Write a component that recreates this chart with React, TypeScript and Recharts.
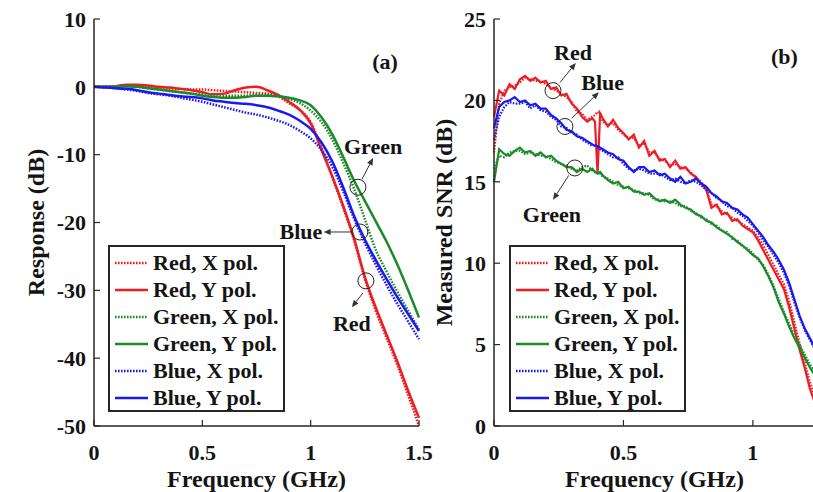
import { LineChart, Line, XAxis, YAxis, ReferenceDot, ReferenceLine } from 'recharts';

const FONT = '"Liberation Serif", "Times New Roman", Times, serif';
const INK = '#262626';
const RED = '#ee1d23';
const GREEN = '#1d8a2a';
const BLUE = '#1a1aee';
const DOTS = '1.6 1.4';
const TICK = 6;

// ---- panel (a): frequency response (dB) ----
const freqA = [
  0, 0.05, 0.1, 0.15, 0.2, 0.25, 0.3, 0.35, 0.4, 0.45, 0.5, 0.55, 0.6, 0.65, 0.7, 0.75,
  0.8, 0.85, 0.9, 0.95, 1.0, 1.05, 1.1, 1.15, 1.2, 1.25, 1.3, 1.35, 1.4, 1.45, 1.5,
];
const respRedX = [
  0, 0.0, 0.1, 0.2, 0.2, 0.0, -0.2, -0.3, -0.3, -0.4, -0.4, -0.5, -0.6, -0.7, -0.8, -0.9,
  -1.0, -1.4, -2.4, -3.4, -5.2, -9.0, -13.4, -17.8, -22.6, -28.3, -33.0, -37.0, -41.0, -45.5, -50.0,
];
const respRedY = [
  0, 0.0, 0.1, 0.3, 0.3, 0.2, 0.0, -0.1, -0.3, -0.5, -0.8, -1.1, -1.0, -0.5, -0.1, 0.0,
  -0.5, -1.2, -2.2, -3.4, -5.4, -9.3, -13.2, -17.5, -22.3, -28.0, -32.5, -36.5, -40.5, -44.8, -48.8,
];
const respGreenX = [
  0, 0.0, 0.0, 0.1, 0.0, -0.2, -0.4, -0.6, -0.8, -1.0, -1.1, -1.2, -1.3, -1.3, -1.3, -1.2,
  -1.2, -1.4, -1.8, -2.4, -3.5, -5.2, -7.8, -11.2, -15.0, -19.5, -24.0, -27.2, -30.2, -33.0, -35.8,
];
const respGreenY = [
  0, 0.0, 0.0, 0.1, 0.0, -0.2, -0.4, -0.6, -0.8, -1.0, -1.3, -1.5, -1.6, -1.6, -1.5, -1.3,
  -1.3, -1.4, -1.6, -2.0, -2.7, -4.5, -7.0, -10.3, -13.8, -16.8, -19.8, -22.8, -26.2, -30.0, -34.0,
];
const respBlueX = [
  0, -0.1, -0.2, -0.4, -0.6, -0.9, -1.1, -1.3, -1.6, -1.9, -2.2, -2.6, -3.0, -3.4, -3.8, -4.1,
  -4.5, -5.0, -5.6, -6.5, -7.6, -9.3, -11.8, -15.4, -19.4, -23.0, -26.2, -29.2, -32.0, -34.6, -37.2,
];
const respBlueY = [
  0, -0.1, -0.2, -0.3, -0.5, -0.8, -1.0, -1.2, -1.4, -1.5, -1.7, -2.0, -2.2, -2.4, -2.5, -2.7,
  -3.0, -3.5, -4.1, -5.0, -6.2, -8.2, -11.0, -14.8, -19.0, -22.5, -25.5, -28.3, -31.0, -33.5, -36.0,
];

// ---- panel (b): measured SNR (dB) ----
const freqB = [
  0, 0.02, 0.04, 0.06, 0.08, 0.1, 0.12, 0.14, 0.16, 0.18, 0.2, 0.22, 0.24, 0.26, 0.28, 0.3,
  0.32, 0.34, 0.36, 0.38, 0.39, 0.4, 0.41, 0.42, 0.44, 0.46, 0.48, 0.5, 0.52, 0.54, 0.56, 0.58,
  0.6, 0.62, 0.64, 0.66, 0.68, 0.7, 0.72, 0.74, 0.76, 0.78, 0.8, 0.82, 0.84, 0.86, 0.88, 0.9,
  0.92, 0.94, 0.96, 0.98, 1.0, 1.02, 1.04, 1.06, 1.08, 1.1, 1.12, 1.14, 1.16, 1.18, 1.2, 1.22, 1.24,
];
const snrRedX = [
  16.8, 19.8, 20.6, 20.8, 20.9, 21.1, 21.4, 21.3, 21.2, 21.2, 21.0, 20.8, 20.6, 20.4, 20.2, 19.9,
  19.3, 19.2, 18.8, 19.0, 19.1, 19.3, 19.2, 18.7, 18.5, 18.6, 18.2, 17.9, 17.7, 17.7, 17.2, 17.4,
  16.8, 16.8, 16.4, 16.3, 16.0, 16.1, 15.9, 15.8, 15.6, 15.2, 15.0, 14.6, 13.6, 13.5, 13.2, 13.0,
  12.8, 12.6, 12.4, 12.2, 12.0, 11.6, 11.1, 10.5, 9.9, 9.3, 8.7, 7.7, 6.4, 5.1, 3.9, 2.7, 1.8,
];
const snrRedY = [
  19.0, 20.6, 20.3, 21.0, 20.7, 21.3, 21.5, 21.2, 21.4, 21.1, 21.2, 20.7, 20.8, 20.3, 20.4, 19.8,
  19.5, 19.0, 18.7, 18.9, 18.7, 15.5, 19.2, 18.9, 18.4, 18.8, 18.3, 18.0, 17.6, 17.9, 17.1, 17.5,
  16.6, 16.9, 16.3, 16.4, 15.9, 16.3, 15.8, 15.9, 15.5, 15.3, 14.9, 14.5, 13.4, 13.6, 13.0, 13.1,
  12.6, 12.7, 12.3, 12.1, 11.9, 11.4, 10.8, 10.2, 9.6, 9.0, 8.4, 7.3, 6.0, 4.7, 3.6, 2.3, 1.4,
];
const snrGreenX = [
  15.8, 16.6, 16.5, 16.8, 16.9, 16.9, 16.7, 16.8, 16.7, 16.6, 16.6, 16.4, 16.2, 16.1, 16.0, 15.8,
  15.7, 15.9, 16.0, 15.7, 15.6, 15.6, 15.5, 15.3, 15.2, 15.0, 14.8, 14.7, 14.6, 14.5, 14.3, 14.3,
  14.2, 13.9, 13.9, 13.8, 13.8, 13.7, 13.5, 13.5, 13.2, 13.1, 12.8, 12.7, 12.4, 12.3, 12.0, 11.9,
  11.5, 11.4, 11.0, 10.9, 10.6, 10.2, 9.9, 9.3, 8.6, 7.8, 7.0, 6.3, 5.6, 5.0, 4.4, 3.8, 3.3,
];
const snrGreenY = [
  15.0, 17.0, 16.7, 16.6, 16.9, 17.1, 16.8, 16.9, 16.6, 16.8, 16.5, 16.6, 16.3, 16.1, 15.9, 15.9,
  15.6, 15.8, 15.6, 15.8, 15.6, 15.5, 15.6, 15.4, 15.1, 14.9, 15.0, 14.6, 14.7, 14.4, 14.4, 14.2,
  14.3, 14.0, 13.8, 13.9, 13.7, 13.9, 13.6, 13.4, 13.3, 13.0, 12.9, 12.6, 12.5, 12.2, 12.0, 11.8,
  11.6, 11.3, 11.1, 10.8, 10.5, 10.3, 9.8, 9.2, 8.5, 7.6, 6.9, 6.1, 5.4, 4.8, 4.2, 3.6, 3.1,
];
const snrBlueX = [
  17.6, 19.0, 19.6, 19.9, 19.8, 19.8, 19.9, 19.5, 19.7, 19.4, 19.3, 19.0, 18.8, 18.4, 18.3, 18.0,
  17.9, 17.6, 17.4, 17.2, 17.3, 17.1, 17.0, 16.9, 16.7, 16.5, 16.5, 16.1, 15.8, 15.7, 15.8, 15.7,
  15.5, 15.5, 15.5, 15.3, 15.1, 15.2, 15.0, 14.9, 15.1, 15.0, 14.8, 14.5, 14.3, 14.0, 13.8, 13.5,
  13.4, 13.1, 12.9, 12.6, 12.3, 11.9, 11.4, 11.0, 10.5, 10.0, 9.4, 8.6, 7.6, 6.7, 5.9, 5.3, 4.7,
];
const snrBlueY = [
  18.3, 19.6, 19.9, 20.0, 20.2, 19.9, 20.0, 19.7, 19.8, 19.5, 19.5, 19.1, 18.9, 18.6, 18.2, 18.1,
  17.8, 17.7, 17.5, 17.3, 17.2, 17.2, 17.1, 17.0, 16.8, 16.7, 16.4, 16.3, 15.9, 15.6, 15.9, 15.9,
  15.6, 15.7, 15.4, 15.5, 15.2, 15.0, 15.3, 14.9, 15.0, 15.2, 14.9, 14.7, 14.3, 14.1, 13.8, 13.7,
  13.4, 13.3, 13.0, 12.8, 12.4, 12.0, 11.6, 11.1, 10.7, 10.2, 9.6, 8.8, 7.8, 6.8, 6.0, 5.4, 4.8,
];

const SERIES = [
  { key: 'redX', name: 'Red, X pol.', color: RED, dotted: true },
  { key: 'redY', name: 'Red, Y pol.', color: RED, dotted: false },
  { key: 'greenX', name: 'Green, X pol.', color: GREEN, dotted: true },
  { key: 'greenY', name: 'Green, Y pol.', color: GREEN, dotted: false },
  { key: 'blueX', name: 'Blue, X pol.', color: BLUE, dotted: true },
  { key: 'blueY', name: 'Blue, Y pol.', color: BLUE, dotted: false },
];

const dataA = freqA.map((f, i) => ({
  f,
  redX: respRedX[i],
  redY: respRedY[i],
  greenX: respGreenX[i],
  greenY: respGreenY[i],
  blueX: respBlueX[i],
  blueY: respBlueY[i],
}));

const dataB = freqB.map((f, i) => ({
  f,
  redX: snrRedX[i],
  redY: snrRedY[i],
  greenX: snrGreenX[i],
  greenY: snrGreenY[i],
  blueX: snrBlueX[i],
  blueY: snrBlueY[i],
}));

// annotations: circle, arrow (circle -> text) and text, in data units
const notesA = [
  { text: 'Green', cx: 1.218, cy: -14.8, ax: 1.237, ay: -13.6, bx: 1.288, by: -10.5, tx: 1.288, ty: -8.85 },
  { text: 'Blue', cx: 1.227, cy: -21.4, ax: 1.19, ay: -21.4, bx: 1.06, by: -21.4, tx: 0.955, ty: -21.4 },
  { text: 'Red', cx: 1.255, cy: -28.6, ax: 1.241, ay: -30.4, bx: 1.19, by: -32.5, tx: 1.19, ty: -34.9 },
];
const notesB = [
  { text: 'Red', cx: 0.228, cy: 20.6, ax: 0.255, ay: 21.1, bx: 0.316, by: 22.3, tx: 0.305, ty: 22.95 },
  { text: 'Blue', cx: 0.274, cy: 18.4, ax: 0.3, ay: 18.9, bx: 0.405, by: 20.5, tx: 0.42, ty: 21.1 },
  { text: 'Green', cx: 0.312, cy: 15.85, ax: 0.289, ay: 15.4, bx: 0.228, by: 13.9, tx: 0.224, ty: 13.0 },
];

const textProps = { fontFamily: FONT, fontWeight: 700, fill: '#141414' };

const bottomTick = (p: any) => (
  <g>
    <line x1={p.x} y1={p.y} x2={p.x} y2={p.y - TICK} stroke={INK} strokeWidth={1.2} />
    <text x={p.x} y={p.y + 34} textAnchor="middle" fontSize={22} {...textProps}>
      {p.payload.value}
    </text>
  </g>
);
const topTick = (p: any) => (
  <line x1={p.x} y1={p.y} x2={p.x} y2={p.y + TICK} stroke={INK} strokeWidth={1.2} />
);
const leftTick = (p: any) => (
  <g>
    <line x1={p.x} y1={p.y} x2={p.x + TICK} y2={p.y} stroke={INK} strokeWidth={1.2} />
    <text x={p.x - 8} y={p.y} dy="0.35em" textAnchor="end" fontSize={22} {...textProps}>
      {p.payload.value}
    </text>
  </g>
);
const rightTick = (p: any) => (
  <line x1={p.x} y1={p.y} x2={p.x - TICK} y2={p.y} stroke={INK} strokeWidth={1.2} />
);

const Arrow = (p: any) => {
  const { x1, y1, x2, y2 } = p;
  const a = Math.atan2(y2 - y1, x2 - x1);
  const h = 7;
  const w = 3;
  const bx = x2 - h * Math.cos(a);
  const by = y2 - h * Math.sin(a);
  const pts = `${x2},${y2} ${bx - w * Math.sin(a)},${by + w * Math.cos(a)} ${bx + w * Math.sin(a)},${by - w * Math.cos(a)}`;
  return (
    <g>
      <line x1={x1} y1={y1} x2={bx} y2={by} stroke="#333" strokeWidth={1} />
      <polygon points={pts} fill="#333" />
    </g>
  );
};

const textMark = (label: string) => (p: any) => (
  <text x={p.cx} y={p.cy} textAnchor="middle" dominantBaseline="central" fontSize={22} {...textProps}>
    {label}
  </text>
);

const axisLine = { stroke: INK, strokeWidth: 1.5 };

interface PanelProps {
  data: any[];
  left: number;
  width: number;
  rightPad: number;
  yAxisWidth: number;
  xDomain: number[];
  yDomain: number[];
  xTicks: number[];
  yTicks: number[];
  yTitle: string;
  yTitleOffset: number;
  curve: 'monotone' | 'linear';
  strokeW: number;
  notes: typeof notesA;
  tag: string;
  tagX: number;
  tagY: number;
}

function Panel(props: PanelProps) {
  const { data, left, width, yAxisWidth, xDomain, yDomain, xTicks, yTicks } = props;
  return (
    <div style={{ position: 'absolute', left, top: 0 }}>
      <LineChart
        width={width}
        height={492}
        data={data}
        margin={{ top: 19, right: props.rightPad, bottom: 0, left: 0 }}
      >
        <XAxis
          dataKey="f"
          type="number"
          domain={xDomain}
          ticks={xTicks}
          interval={0}
          height={66}
          tickSize={0}
          tickMargin={0}
          axisLine={axisLine}
          tickLine={false}
          tick={bottomTick}
          label={{
            value: 'Frequency (GHz)',
            position: 'insideBottom',
            offset: 5,
            fontSize: 24,
            ...textProps,
          }}
        />
        <XAxis
          xAxisId="top"
          orientation="top"
          dataKey="f"
          type="number"
          domain={xDomain}
          ticks={xTicks}
          interval={0}
          height={0}
          tickSize={0}
          tickMargin={0}
          axisLine={axisLine}
          tickLine={false}
          tick={topTick}
        />
        <YAxis
          type="number"
          domain={yDomain}
          ticks={yTicks}
          interval={0}
          width={yAxisWidth}
          tickSize={0}
          tickMargin={0}
          axisLine={axisLine}
          tickLine={false}
          tick={leftTick}
          label={{
            value: props.yTitle,
            angle: -90,
            position: 'insideLeft',
            offset: props.yTitleOffset,
            fontSize: 24,
            style: { textAnchor: 'middle' },
            ...textProps,
          }}
        />
        <YAxis
          yAxisId="right"
          orientation="right"
          type="number"
          domain={yDomain}
          ticks={yTicks}
          interval={0}
          width={0}
          tickSize={0}
          tickMargin={0}
          axisLine={axisLine}
          tickLine={false}
          tick={rightTick}
        />
        {SERIES.map((s) => (
          <Line
            key={s.key}
            dataKey={s.key}
            name={s.name}
            type={props.curve}
            stroke={s.color}
            strokeWidth={props.strokeW}
            strokeDasharray={s.dotted ? DOTS : undefined}
            dot={false}
            activeDot={false}
            isAnimationActive={false}
          />
        ))}
        {props.notes.map((n) => (
          <ReferenceDot key={n.text + 'c'} x={n.cx} y={n.cy} r={8} fill="none" stroke="#222" strokeWidth={1} />
        ))}
        {props.notes.map((n) => (
          <ReferenceLine
            key={n.text + 'a'}
            segment={[
              { x: n.ax, y: n.ay },
              { x: n.bx, y: n.by },
            ]}
            shape={Arrow}
          />
        ))}
        {props.notes.map((n) => (
          <ReferenceDot key={n.text + 't'} x={n.tx} y={n.ty} r={0} shape={textMark(n.text)} />
        ))}
        <ReferenceDot x={props.tagX} y={props.tagY} r={0} shape={textMark(props.tag)} />
      </LineChart>
    </div>
  );
}

function LegendBox({ left, top }: { left: number; top: number }) {
  return (
    <div
      style={{
        position: 'absolute',
        left,
        top,
        width: 177,
        height: 167,
        boxSizing: 'border-box',
        border: `2px solid ${INK}`,
        background: '#fff',
        paddingTop: 2,
      }}
    >
      {SERIES.map((s) => (
        <div key={s.key} style={{ display: 'flex', alignItems: 'center', height: 27 }}>
          <svg width={33} height={6} style={{ marginLeft: 5, marginRight: 5, flex: 'none' }}>
            <line
              x1={0}
              y1={3}
              x2={33}
              y2={3}
              stroke={s.color}
              strokeWidth={2.5}
              strokeDasharray={s.dotted ? DOTS : undefined}
            />
          </svg>
          <span
            style={{
              fontFamily: FONT,
              fontWeight: 700,
              fontSize: 22,
              lineHeight: '27px',
              whiteSpace: 'nowrap',
              color: '#141414',
            }}
          >
            {s.name}
          </span>
        </div>
      ))}
    </div>
  );
}

export default function App() {
  return (
    <div
      style={{
        position: 'absolute',
        left: 0,
        top: 0,
        width: 813,
        height: 492,
        overflow: 'hidden',
        background: '#fff',
      }}
    >
      <Panel
        data={dataA}
        left={0}
        width={444}
        rightPad={25}
        yAxisWidth={94}
        xDomain={[0, 1.5]}
        yDomain={[-50, 10]}
        xTicks={[0, 0.5, 1, 1.5]}
        yTicks={[-50, -40, -30, -20, -10, 0, 10]}
        yTitle="Response (dB)"
        yTitleOffset={35}
        curve="monotone"
        strokeW={2.5}
        notes={notesA}
        tag="(a)"
        tagX={1.343}
        tagY={3.7}
      />
      <Panel
        data={dataB}
        left={420}
        width={406}
        rightPad={11}
        yAxisWidth={74}
        xDomain={[0, 1.24]}
        yDomain={[0, 25]}
        xTicks={[0, 0.5, 1]}
        yTicks={[0, 5, 10, 15, 20, 25]}
        yTitle="Measured SNR (dB)"
        yTitleOffset={23}
        curve="linear"
        strokeW={2.2}
        notes={notesB}
        tag="(b)"
        tagX={1.122}
        tagY={22.7}
      />
      <LegendBox left={108} top={245} />
      <LegendBox left={509} top={245} />
    </div>
  );
}
